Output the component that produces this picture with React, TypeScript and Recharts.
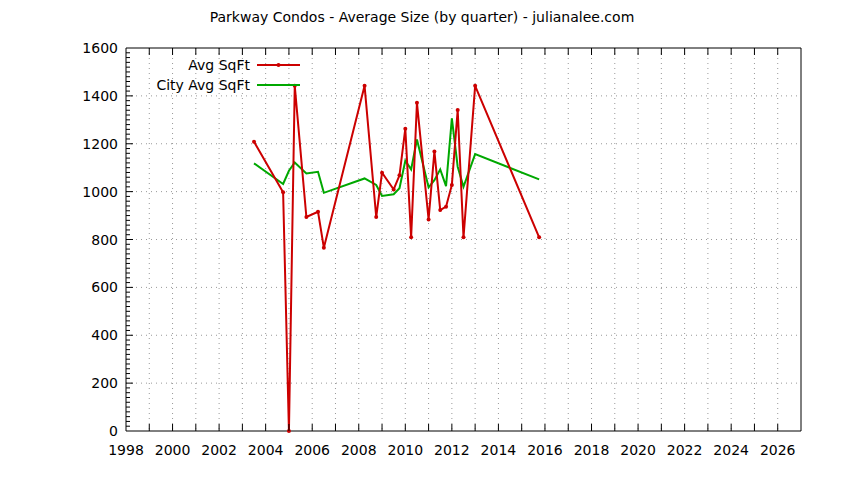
import React from "react";
import { CartesianGrid, Legend, Line, LineChart, XAxis, YAxis } from "recharts";

// quarter positions (decimal year) and values
const quarters = [
  2003.5, 2004.75, 2005.0, 2005.25, 2005.75, 2006.25, 2006.5, 2008.25,
  2008.75, 2009.0, 2009.5, 2009.75, 2010.0, 2010.25, 2010.5, 2011.0,
  2011.25, 2011.5, 2011.75, 2012.0, 2012.25, 2012.5, 2013.0, 2015.75,
];
const avgSqFt = [
  1208, 997, 0, 1442, 894, 916, 766, 1442,
  894, 1079, 1009, 1068, 1263, 809, 1371, 884,
  1168, 923, 937, 1028, 1341, 809, 1442, 809,
];
const cityAvgSqFt = [
  1118, 1032, 1087, 1122, 1076, 1083, 995, 1055,
  1028, 982, 989, 1014, 1129, 1093, 1218, 1018,
  1048, 1093, 1023, 1306, 1104, 1020, 1157, 1051,
];

const yearTicks = Array.from({ length: 30 }, (_, i) => 1998 + i);
const labelYears = [1998, 2000, 2002, 2004, 2006, 2008, 2010, 2012, 2014, 2016, 2018, 2020, 2022, 2024, 2026];
const yMinorTicks = Array.from({ length: 81 }, (_, i) => i * 20);
const gridValues = [200, 400, 600, 800, 1000, 1200, 1400];

const FONT = "'DejaVu Sans', sans-serif";
const RED = "#cc0000";
const GREEN = "#00a800";

const data = quarters.map((q, i) => ({ q, avg: avgSqFt[i], city: cityAvgSqFt[i] }));

const BottomTick = (props: any) => {
  const { x, y, payload } = props;
  const v = payload.value;
  const edge = v === 1998 || v === 2027;
  return (
    <g>
      {!edge && <line x1={x} x2={x} y1={y} y2={y - 7} stroke="#000" strokeWidth={1} />}
      {labelYears.includes(v) && (
        <text x={x} y={y + 24} textAnchor="middle" fontFamily={FONT} fontSize={14} fill="#000">{v}</text>
      )}
    </g>
  );
};

const TopTick = (props: any) => {
  const { x, y, payload } = props;
  const v = payload.value;
  if (v === 1998 || v === 2027) return <g />;
  return <line x1={x} x2={x} y1={y} y2={y + 7} stroke="#000" strokeWidth={1} />;
};

const LeftTick = (props: any) => {
  const { x, y, payload } = props;
  const v = payload.value;
  const major = v % 200 === 0;
  return (
    <g>
      {v !== 0 && v !== 1600 && (
        <line x1={x} x2={x + (major ? 7 : 4)} y1={y} y2={y} stroke="#000" strokeWidth={1} />
      )}
      {major && (
        <text x={x - 8} y={y + 5} textAnchor="end" fontFamily={FONT} fontSize={14} fill="#000">{v}</text>
      )}
    </g>
  );
};

const RightTick = (props: any) => {
  const { x, y, payload } = props;
  const v = payload.value;
  if (v === 0 || v === 1600) return <g />;
  const major = v % 200 === 0;
  return <line x1={x} x2={x - (major ? 7 : 4)} y1={y} y2={y} stroke="#000" strokeWidth={1} />;
};

const LegendBox = () => (
  <svg width={180} height={44} style={{ display: "block" }}>
    <text x={110} y={16} textAnchor="end" fontFamily={FONT} fontSize={14} fill="#000">Avg SqFt</text>
    <line x1={117} x2={160} y1={11} y2={11} stroke={RED} strokeWidth={2} />
    <circle cx={138.5} cy={11} r={2} fill={RED} />
    <text x={110} y={36} textAnchor="end" fontFamily={FONT} fontSize={14} fill="#000">City Avg SqFt</text>
    <line x1={117} x2={160} y1={31} y2={31} stroke={GREEN} strokeWidth={2} />
  </svg>
);

export default function App() {
  return (
    <div style={{ position: "absolute", left: 0, top: 0, width: 844, height: 480, background: "#fff" }}>
      <div
        style={{
          position: "absolute", left: 0, top: 9, width: 844, textAlign: "center",
          fontFamily: FONT, fontSize: 14, color: "#000",
        }}
      >
        Parkway Condos - Average Size (by quarter) - julianalee.com
      </div>
      <LineChart
        width={844}
        height={480}
        data={data}
        margin={{ top: 38, right: 33, bottom: 19, left: 66 }}
      >
        <CartesianGrid
          stroke="#999"
          strokeDasharray="1 4"
          horizontalValues={gridValues}
          verticalValues={yearTicks.filter((t) => t !== 1998 && t !== 2027)}
          xAxisId="bottom"
          yAxisId="left"
        />
        <XAxis
          xAxisId="bottom"
          dataKey="q"
          type="number"
          domain={[1998, 2027]}
          ticks={yearTicks}
          interval={0}
          height={30}
          tickSize={0}
          tickMargin={0}
          tick={<BottomTick />}
          tickLine={false}
          axisLine={{ stroke: "#000", strokeWidth: 1 }}
        />
        <XAxis
          xAxisId="top"
          orientation="top"
          dataKey="q"
          type="number"
          domain={[1998, 2027]}
          ticks={yearTicks}
          interval={0}
          height={10}
          tickSize={0}
          tickMargin={0}
          tick={<TopTick />}
          tickLine={false}
          axisLine={{ stroke: "#000", strokeWidth: 1 }}
        />
        <YAxis
          yAxisId="left"
          type="number"
          domain={[0, 1600]}
          ticks={yMinorTicks}
          interval={0}
          width={60}
          tickSize={0}
          tickMargin={0}
          tick={<LeftTick />}
          tickLine={false}
          axisLine={{ stroke: "#000", strokeWidth: 1 }}
        />
        <YAxis
          yAxisId="right"
          orientation="right"
          type="number"
          domain={[0, 1600]}
          ticks={yMinorTicks}
          interval={0}
          width={10}
          tickSize={0}
          tickMargin={0}
          tick={<RightTick />}
          tickLine={false}
          axisLine={{ stroke: "#000", strokeWidth: 1 }}
        />
        <Legend
          layout="vertical"
          align="center"
          verticalAlign="middle"
          content={<LegendBox />}
          wrapperStyle={{ position: "absolute", left: 140, top: 54, width: 180, height: 44 }}
        />
        <Line
          xAxisId="bottom"
          yAxisId="left"
          type="linear"
          dataKey="city"
          stroke={GREEN}
          strokeWidth={2}
          dot={false}
          isAnimationActive={false}
        />
        <Line
          xAxisId="bottom"
          yAxisId="left"
          type="linear"
          dataKey="avg"
          stroke={RED}
          strokeWidth={2}
          dot={{ r: 2, fill: RED, stroke: RED, strokeWidth: 0 }}
          isAnimationActive={false}
        />
      </LineChart>
    </div>
  );
}
